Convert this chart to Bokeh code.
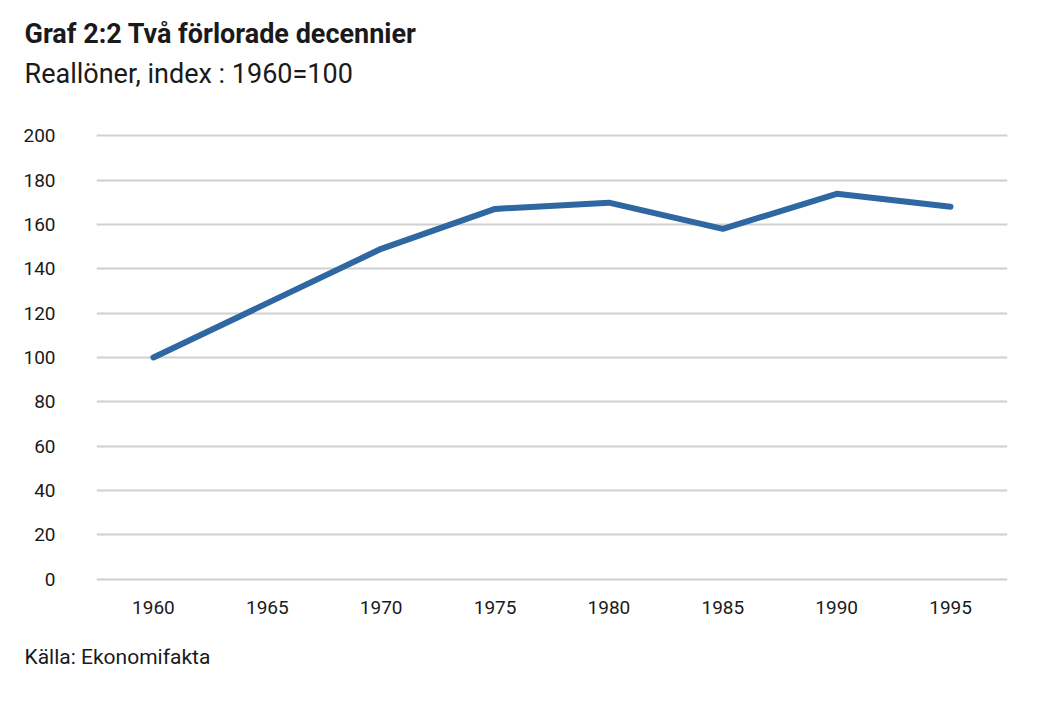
from bokeh.plotting import figure
from bokeh.models import Range1d, FactorRange, Title, FixedTicker
from bokeh.embed import file_html
from bokeh.resources import INLINE

years = ["1960", "1965", "1970", "1975", "1980", "1985", "1990", "1995"]
wages = [100, 124.5, 149, 167, 169.8, 158, 173.8, 168]
y_ticks = [0, 20, 40, 60, 80, 100, 120, 140, 160, 180, 200]

title_text = "Graf 2:2 Två förlorade decennier"
subtitle_text = "Reallöner, index : 1960=100"
source_text = "Källa: Ekonomifakta"

FONT = "Roboto"
TXT = "#1a1a1a"

p = figure(width=1038, height=714, x_range=FactorRange(*years, range_padding=0),
           y_range=Range1d(-1, 201), output_backend="svg", toolbar_location=None,
           min_border_left=96, min_border_right=31, min_border_top=133, min_border_bottom=133)
p.outline_line_color = None
p.background_fill_color = "white"
p.border_fill_color = "white"

p.line(x=years, y=wages, line_color="#2F67A3", line_width=6, line_cap="round", line_join="round")

p.xgrid.grid_line_color = None
p.ygrid.grid_line_color = "#d0d0d0"
p.ygrid.grid_line_width = 2
p.yaxis.ticker = FixedTicker(ticks=y_ticks)

for ax in (p.xaxis[0], p.yaxis[0]):
    ax.axis_line_color = None
    ax.major_tick_line_color = None
    ax.minor_tick_line_color = None
    ax.major_label_text_font = FONT
    ax.major_label_text_font_size = "19px"
    ax.major_label_text_color = TXT
p.yaxis.major_label_standoff = 35
p.xaxis.major_label_standoff = 13

p.title.text = title_text
p.title.align = "left"
p.title.offset = -72
p.title.standoff = 8
p.title.text_font = FONT
p.title.text_font_style = "bold"
p.title.text_font_size = "27px"
p.title.text_color = TXT

# spacer between subtitle and plot area (closest to frame)
spacer = Title(text=" ", align="left", standoff=29, text_font=FONT, text_font_size="10px")
p.add_layout(spacer, "above")

sub = Title(text=subtitle_text, align="left", offset=-72, standoff=4,
            text_font=FONT, text_font_style="normal", text_font_size="27px", text_color=TXT)
p.add_layout(sub, "above")

src = Title(text=source_text, align="left", offset=-72, standoff=52,
            text_font=FONT, text_font_style="normal", text_font_size="21px", text_color=TXT)
p.add_layout(src, "below")

open("out.html", "w").write(file_html(p, INLINE))
